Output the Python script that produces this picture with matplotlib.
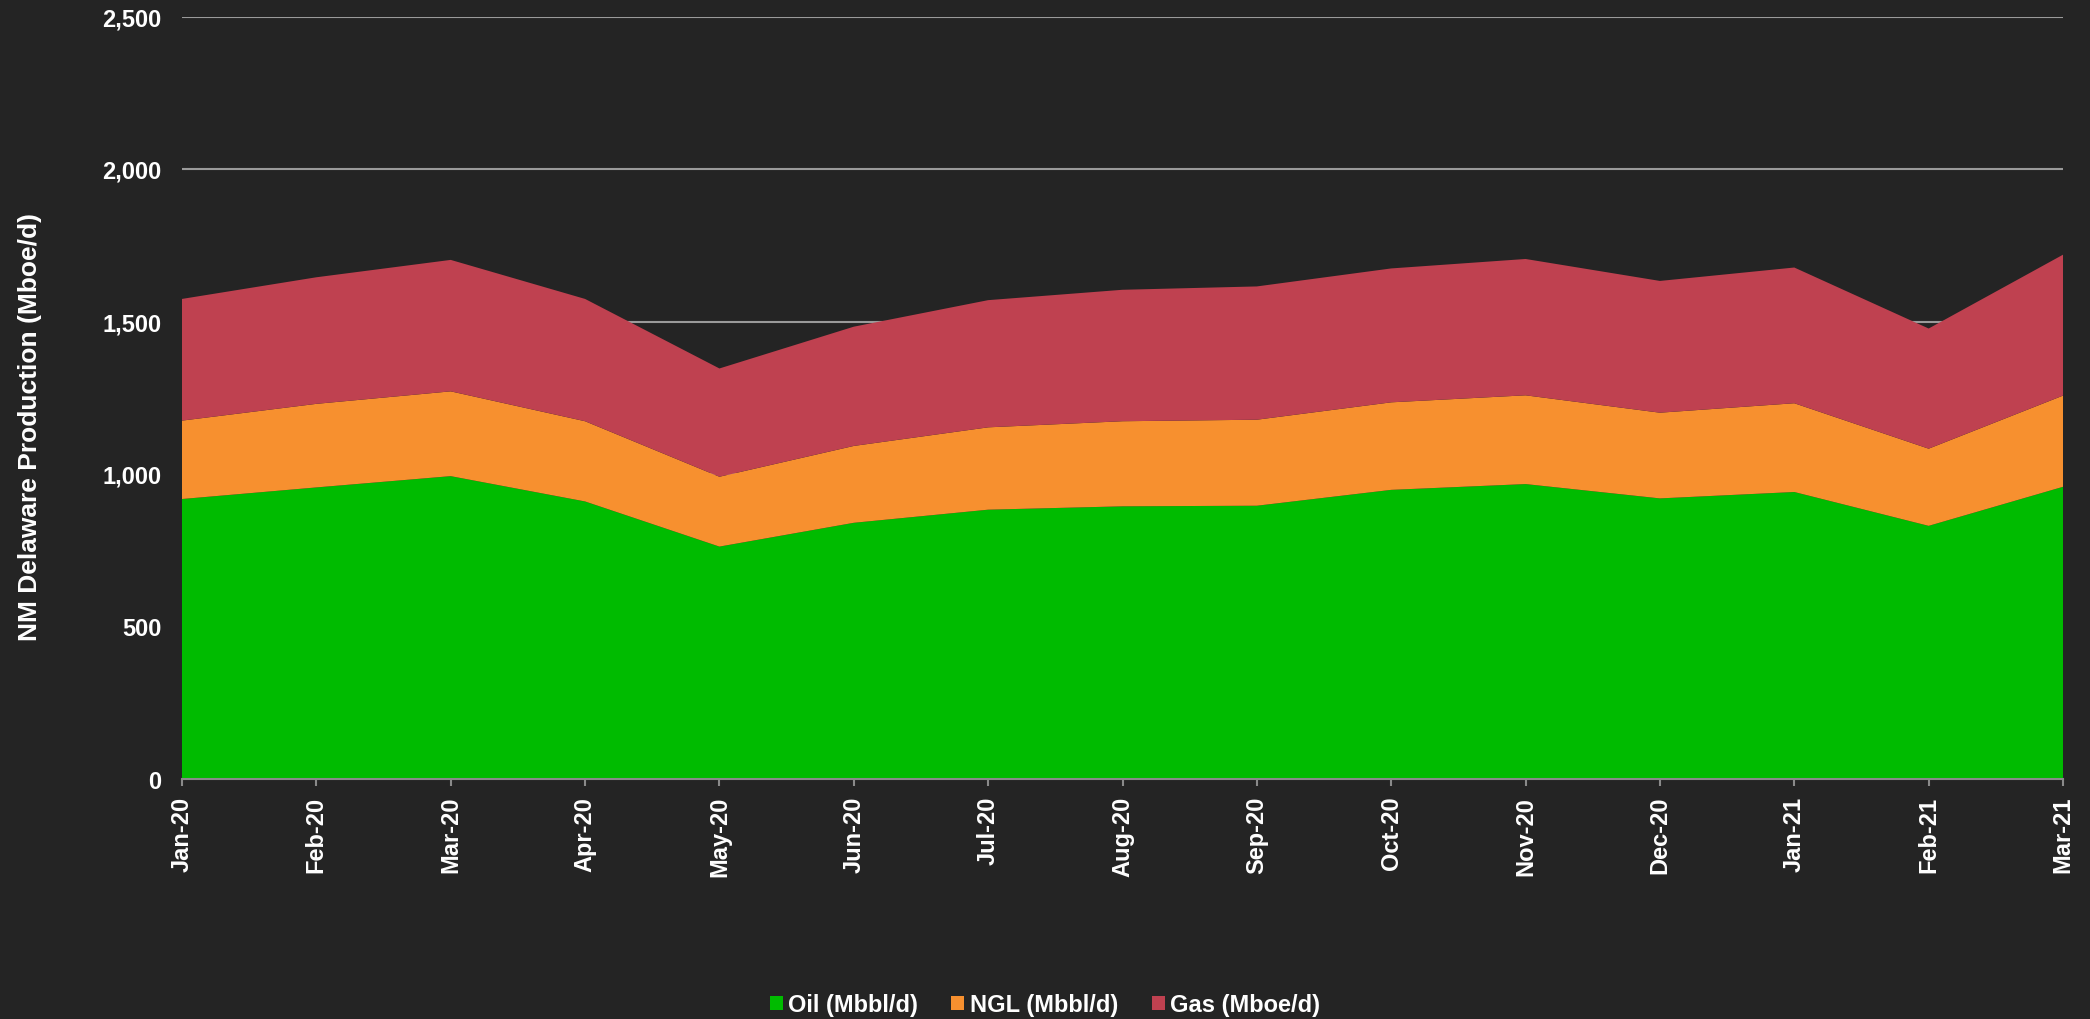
import matplotlib.pyplot as plt
from matplotlib.ticker import FuncFormatter
import numpy as np

# ── Data ──────────────────────────────────────────────────────────────────────
months = ["Jan-20", "Feb-20", "Mar-20", "Apr-20", "May-20", "Jun-20", "Jul-20",
          "Aug-20", "Sep-20", "Oct-20", "Nov-20", "Dec-20", "Jan-21", "Feb-21",
          "Mar-21"]
oil = [918, 956, 993, 910, 762, 840, 883, 894, 896, 948, 967, 920, 941, 830, 958]
ngl = [257, 274, 278, 263, 229, 252, 270, 279, 282, 287, 291, 281, 291, 253, 299]
gas = [399, 415, 431, 401, 355, 391, 417, 431, 437, 439, 447, 432, 445, 394, 462]

labels = ["Oil (Mbbl/d)", "NGL (Mbbl/d)", "Gas (Mboe/d)"]
colors = ["#00BB00", "#F7902F", "#BF4150"]

BG = "#242424"
FONT = "Liberation Sans"

plt.rcParams["font.family"] = [FONT, "DejaVu Sans"]
plt.rcParams["font.weight"] = "bold"

fig = plt.figure(figsize=(20.9, 10.2), dpi=100, facecolor=BG)
ax = fig.add_axes([182 / 2090, 1 - 780 / 1020, (2063 - 182) / 2090, (780 - 17.5) / 1020])
ax.set_facecolor(BG)

x = np.arange(len(months))
ax.stackplot(x, oil, ngl, gas, labels=labels, colors=colors, linewidth=0, zorder=2)

ax.set_xlim(0, len(months) - 1)
ax.set_ylim(0, 2500)
ax.set_yticks(range(0, 2501, 500))
ax.yaxis.set_major_formatter(FuncFormatter(lambda v, _: f"{v:,.0f}"))
ax.set_xticks(x)
ax.set_xticklabels(months, rotation=90)

ax.grid(axis="y", color="#9a9a9a", linewidth=1.5, zorder=1)
ax.set_axisbelow(True)

for side in ["top", "right", "left"]:
    ax.spines[side].set_visible(False)
ax.spines["bottom"].set_color("#8a8a8a")
ax.spines["bottom"].set_linewidth(1.5)
ax.spines["bottom"].set_zorder(3)

ax.tick_params(axis="y", length=0, pad=15, labelcolor="white", labelsize=17)
ax.tick_params(axis="x", length=5, width=1.5, color="#8a8a8a", pad=7,
               labelcolor="white", labelsize=17)
for lbl in ax.get_xticklabels() + ax.get_yticklabels():
    lbl.set_fontweight("bold")

fig.text(30 / 2090, 1 - 427 / 1020, "NM Delaware Production (Mboe/d)",
         rotation=90, ha="center", va="center", color="white",
         fontsize=19, fontweight="bold")

leg = fig.legend(loc="center", bbox_to_anchor=(1045 / 2090, 1 - 1006 / 1020),
                 ncol=3, frameon=False, fontsize=17,
                 handlelength=0.55, handleheight=0.55, handletextpad=0.25,
                 columnspacing=1.4)
for t in leg.get_texts():
    t.set_color("white")
    t.set_fontweight("bold")

fig.savefig("out.png", dpi=100, facecolor=BG)
